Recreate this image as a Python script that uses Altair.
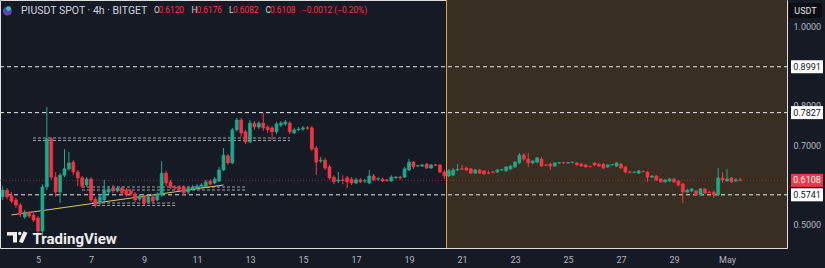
import altair as alt
import pandas as pd

# ---------------- data (PIUSDT 4h candles) ----------------
opens = [
    .569, .586, .571, .561, .548, .518, .530, .523, .515, .482,
    .594, .716, .619, .581, .624, .640, .657, .632, .617, .599,
    .614, .563, .553, .561, .581, .591, .584, .591, .586, .584,
    .576, .563, .569, .556, .569, .561, .574, .629, .607, .594,
    .594, .594, .581, .589, .591, .596, .596, .609, .604, .609,
    .637, .673, .655, .739, .764, .734, .708, .756, .746, .756,
    .746, .744, .734, .751, .754, .756, .731, .739, .741, .744,
    .744, .693, .660, .662, .645, .619, .609, .612, .617, .614,
    .604, .612, .609, .604, .622, .614, .614, .612, .609, .617,
    .619, .619, .637, .657, .647, .647, .652, .642, .650, .650,
    .632, .622, .624, .637, .640, .642, .640, .629, .637, .635,
    .630, .632, .632, .637, .635, .640, .645, .655, .675, .665,
    .655, .657, .665, .650, .652, .647, .655, .656, .655, .656,
    .655, .652, .650, .646, .655, .652, .652, .645, .650, .647,
    .652, .645, .632, .631, .629, .634, .632, .619, .622, .614,
    .607, .609, .614, .609, .601, .581, .584, .584, .574, .589,
    .581, .581, .574, .617, .609, .617, .609, .6120,
]
highs = [
    .596, .591, .581, .566, .553, .536, .533, .528, .520, .601,
    .797, .721, .632, .629, .690, .683, .662, .637, .622, .619,
    .619, .569, .574, .612, .596, .599, .596, .596, .591, .589,
    .581, .576, .574, .574, .574, .581, .660, .635, .612, .599,
    .599, .599, .596, .599, .601, .604, .612, .614, .619, .645,
    .693, .678, .744, .769, .769, .739, .764, .761, .761, .782,
    .751, .749, .759, .761, .764, .761, .744, .746, .749, .749,
    .749, .698, .670, .668, .650, .624, .632, .624, .622, .619,
    .617, .617, .614, .637, .627, .619, .617, .614, .624, .622,
    .622, .645, .665, .660, .650, .652, .655, .652, .652, .652,
    .637, .640, .642, .652, .650, .645, .642, .640, .640, .637,
    .635, .635, .640, .640, .647, .650, .660, .680, .680, .680,
    .662, .670, .670, .652, .655, .657, .657, .657, .657, .658,
    .657, .655, .652, .648, .657, .655, .655, .652, .652, .657,
    .655, .647, .635, .634, .637, .636, .635, .624, .624, .617,
    .614, .617, .617, .612, .604, .589, .591, .586, .591, .591,
    .584, .584, .642, .632, .640, .619, .617, .6176,
]
lows = [
    .561, .563, .553, .541, .518, .513, .515, .505, .470, .464,
    .586, .612, .569, .553, .619, .635, .624, .596, .591, .594,
    .556, .541, .548, .558, .576, .579, .581, .574, .569, .571,
    .556, .558, .548, .551, .553, .558, .569, .596, .589, .586,
    .584, .574, .576, .586, .589, .591, .594, .599, .601, .607,
    .635, .650, .652, .734, .721, .703, .706, .739, .741, .736,
    .731, .713, .728, .746, .749, .728, .728, .736, .736, .739,
    .685, .624, .655, .637, .612, .601, .604, .601, .591, .599,
    .601, .604, .604, .601, .609, .609, .607, .607, .607, .614,
    .612, .617, .635, .640, .645, .645, .640, .640, .647, .629,
    .614, .619, .622, .635, .637, .635, .627, .627, .627, .624,
    .627, .629, .629, .635, .632, .637, .642, .652, .660, .645,
    .652, .655, .645, .647, .637, .645, .652, .652, .653, .654,
    .647, .645, .642, .644, .647, .645, .640, .642, .648, .645,
    .640, .629, .629, .629, .627, .631, .607, .617, .609, .604,
    .604, .607, .604, .596, .553, .579, .581, .571, .571, .576,
    .579, .566, .571, .604, .607, .604, .607, .6082,
]
closes = [
    .586, .569, .558, .548, .525, .530, .520, .510, .482, .594,
    .716, .619, .581, .624, .640, .655, .632, .617, .596, .614,
    .561, .548, .569, .586, .589, .584, .591, .579, .574, .576,
    .561, .571, .553, .569, .558, .576, .629, .604, .594, .591,
    .589, .579, .591, .594, .596, .599, .607, .601, .614, .637,
    .675, .655, .739, .764, .731, .708, .756, .746, .756, .744,
    .739, .734, .754, .756, .759, .734, .739, .741, .744, .743,
    .690, .657, .662, .642, .617, .607, .612, .610, .607, .604,
    .612, .607, .610, .622, .612, .615, .609, .610, .619, .619,
    .617, .640, .657, .645, .648, .650, .642, .650, .649, .632,
    .622, .635, .637, .639, .639, .637, .629, .637, .629, .627,
    .629, .631, .637, .638, .645, .647, .657, .675, .665, .655,
    .660, .668, .647, .649, .647, .655, .656, .655, .656, .657,
    .650, .647, .645, .645, .650, .647, .642, .650, .651, .655,
    .642, .632, .631, .632, .635, .633, .619, .622, .612, .607,
    .612, .614, .607, .599, .581, .586, .589, .574, .589, .579,
    .580, .574, .617, .612, .614, .607, .6120, .6108,
]
first_candle = "2025-04-03 16:00"        # 4h candles
level_prices = [0.8991, 0.7827, 0.5741]   # horizontal dashed levels
zone_starts = ["2025-04-04T19:25:00Z", "2025-04-04T19:25:00Z",
               "2025-04-06T15:50:00Z", "2025-04-06T15:50:00Z",
               "2025-04-07T01:00:00Z", "2025-04-07T01:00:00Z"]
zone_ends = ["2025-04-14T12:15:00Z", "2025-04-14T12:15:00Z",
             "2025-04-12T20:00:00Z", "2025-04-12T20:00:00Z",
             "2025-04-10T04:00:00Z", "2025-04-10T04:00:00Z"]
zone_prices = [0.7183, 0.7119, 0.5939, 0.5863, 0.5533, 0.5470]
trend_times = ["2025-04-04T00:00:00Z", "2025-04-12T00:00:00Z"]
trend_prices = [0.523, 0.599]
range_start = ["2025-04-20T10:00:00Z"]
range_end = ["2025-05-03T06:20:00Z"]
y_ticks = [0.5, 0.7, 0.8, 1.0]

# ---------------- tables ----------------
times = pd.date_range(first_candle, periods=len(opens), freq="4h")
candles = pd.DataFrame({"t": times.strftime("%Y-%m-%dT%H:%M:%SZ"),
                        "o": opens, "h": highs, "l": lows, "c": closes})
level_df = pd.DataFrame({"p": level_prices})
last_df = pd.DataFrame({"p": [closes[-1]]})
zone_df = pd.DataFrame({"s": zone_starts, "e": zone_ends, "p": zone_prices})
trend_df = pd.DataFrame({"t": trend_times, "p": trend_prices})
range_df = pd.DataFrame({"s": range_start, "e": range_end})
dummy = pd.DataFrame({"k": [0]})

# ---------------- style ----------------
BG = "#161a25"
GREEN = "#1fa98c"
RED = "#f23645"
TXT = "#b2b5be"
W, H = 787, 248
FONT = "Roboto"


def dt(y, mo, d, h=0, mi=0):
    return alt.DateTime(year=y, month=mo, date=d, hours=h, minutes=mi, utc=True)


x_domain = [dt(2025, 4, 3, 13, 35), dt(2025, 5, 3, 6, 20)]
x_ticks = [dt(2025, 4, d) for d in range(5, 31, 2)] + [dt(2025, 5, 1)]
x_axis = alt.Axis(values=x_ticks,
                  labelExpr="utcmonth(datum.value) == 4 ? 'May' : utcFormat(datum.value, '%-d')",
                  labelColor=TXT, labelFontSize=9, labelFont=FONT, tickSize=0,
                  domain=False, grid=False, labelPadding=7, labelFlush=False)
y_axis = alt.Axis(orient="right", values=y_ticks, format=".4f", labelColor=TXT,
                  labelFontSize=9, labelFont=FONT, tickSize=0, domain=False, grid=False,
                  labelPadding=6, labelAlign="left")


def X(field):
    return alt.X(field, type="temporal", title=None,
                 scale=alt.Scale(type="utc", domain=x_domain, nice=False, padding=0), axis=x_axis)


def Y(field):
    return alt.Y(field, type="quantitative", title=None,
                 scale=alt.Scale(domain=[0.4391, 1.0685], nice=False, zero=False, padding=0),
                 axis=y_axis)


updown = alt.condition("datum.c >= datum.o", alt.value(GREEN), alt.value(RED))

# ---------------- layers ----------------
region = alt.Chart(range_df).mark_rect(color="#392e22").encode(
    x=X("s"), x2="e", y=alt.value(0), y2=alt.value(H))
vline = alt.Chart(range_df).mark_rule(color="#f0a030", strokeWidth=1).encode(
    x=X("s"), y=alt.value(0), y2=alt.value(H))

levels = alt.Chart(level_df).mark_rule(color="#e6e6e6", strokeDash=[4, 3], strokeWidth=1).encode(
    y=Y("p"), x=alt.value(0), x2=alt.value(W))
zones = alt.Chart(zone_df).mark_rule(color="#c4c4c4", strokeDash=[3, 2], strokeWidth=1, opacity=0.8).encode(
    x=X("s"), x2="e", y=Y("p"))
price_line = alt.Chart(last_df).mark_rule(color=RED, strokeDash=[1, 2], strokeWidth=1, opacity=0.5).encode(
    y=Y("p"), x=alt.value(0), x2=alt.value(W))
trend = alt.Chart(trend_df).mark_line(color="#d9c66b", strokeWidth=1).encode(
    x=X("t"), y=Y("p"))

wicks = alt.Chart(candles).mark_rule(strokeWidth=1).encode(
    x=X("t"), y=Y("l"), y2="h", color=updown)
bodies = alt.Chart(candles).mark_bar(size=3, strokeWidth=0.6).encode(
    x=X("t"), y=Y("o"), y2="c", color=updown, stroke=updown)

# price-axis boxes
box_white = alt.Chart(level_df).mark_rule(color="#ffffff", strokeWidth=13, strokeCap="butt").encode(
    y=Y("p"), x=alt.value(791), x2=alt.value(823))
box_white_txt = alt.Chart(level_df).mark_text(color="#131722", fontSize=9, font=FONT, align="center",
                                              baseline="middle").encode(
    y=Y("p"), x=alt.value(807), text=alt.Text("p:Q", format=".4f"))
box_red = alt.Chart(last_df).mark_rule(color=RED, strokeWidth=13, strokeCap="butt").encode(
    y=Y("p"), x=alt.value(791), x2=alt.value(823))
box_red_txt = alt.Chart(last_df).mark_text(color="#ffffff", fontSize=9, font=FONT, align="center",
                                           baseline="middle").encode(
    y=Y("p"), x=alt.value(807), text=alt.Text("p:Q", format=".4f"))
usdt_box = alt.Chart(dummy).mark_rule(color="#0b0d13", strokeWidth=15, strokeCap="butt").encode(
    x=alt.value(789), x2=alt.value(822), y=alt.value(10.5))
usdt_txt = alt.Chart(dummy).mark_text(text="USDT", color="#e0e3eb", fontSize=9, font=FONT,
                                      align="center", baseline="middle").encode(
    x=alt.value(805.5), y=alt.value(10.5))

# header
icon = alt.Chart(dummy).mark_point(filled=True, shape="circle", size=80, color="#5b45b0", opacity=1).encode(
    x=alt.value(7.5), y=alt.value(11))
icon2 = alt.Chart(dummy).mark_point(filled=True, shape="circle", size=22, color="#3fc6a8", opacity=1).encode(
    x=alt.value(8.5), y=alt.value(8.5))
title = alt.Chart(dummy).mark_text(text="PIUSDT SPOT · 4h · BITGET", color="#d1d4dc", fontSize=10.5,
                                   font=FONT, align="left", baseline="middle").encode(
    x=alt.value(21), y=alt.value(11))

chg = closes[-1] - closes[-2]
chg_txt = f"{chg:+.4f} ({chg / closes[-2] * 100:+.2f}%)".replace("-", "\u2212")
ohlc_col = RED if chg < 0 else GREEN
segments = [(154, "O", "#d1d4dc"), (158.5, f"{opens[-1]:.4f}", ohlc_col),
            (191.5, "H", "#d1d4dc"), (196.5, f"{highs[-1]:.4f}", ohlc_col),
            (229, "L", "#d1d4dc"), (233, f"{lows[-1]:.4f}", ohlc_col),
            (265.5, "C", "#d1d4dc"), (270, f"{closes[-1]:.4f}", ohlc_col),
            (302, chg_txt, ohlc_col)]
header_parts = [
    alt.Chart(dummy).mark_text(text=s, color=col, fontSize=8.3, font=FONT, align="left",
                               baseline="middle").encode(x=alt.value(xp), y=alt.value(11))
    for xp, s, col in segments
]

# TradingView watermark
wm_txt = alt.Chart(dummy).mark_text(text="TradingView", color="#eeeeee", fontSize=15, fontWeight="bold",
                                    font=FONT, align="left", baseline="middle").encode(
    x=alt.value(32.5), y=alt.value(238.5))
logo_bar = alt.Chart(dummy).mark_rule(color="#eeeeee", strokeWidth=3.5, strokeCap="butt").encode(
    x=alt.value(7), x2=alt.value(17), y=alt.value(233.8))
logo_stem = alt.Chart(dummy).mark_rule(color="#eeeeee", strokeWidth=4, strokeCap="butt").encode(
    x=alt.value(15), y=alt.value(232), y2=alt.value(242.5))
logo_dot = alt.Chart(dummy).mark_point(filled=True, shape="circle", size=12, color="#eeeeee", opacity=1).encode(
    x=alt.value(19.8), y=alt.value(233.6))
logo_slash = alt.Chart(dummy).mark_rule(color="#eeeeee", strokeWidth=4.2, strokeCap="butt").encode(
    x=alt.value(25.5), y=alt.value(232), x2=alt.value(20.8), y2=alt.value(242.5))

chart = alt.layer(
    region, vline, levels, zones, price_line, trend, wicks, bodies,
    box_white, box_white_txt, box_red, box_red_txt, usdt_box, usdt_txt,
    icon, icon2, title, *header_parts,
    wm_txt, logo_bar, logo_stem, logo_dot, logo_slash,
).properties(
    width=W, height=H,
    autosize=alt.AutoSizeParams(type="none"),
    padding={"left": 0, "top": 0, "right": 38, "bottom": 20},
    background=BG,
).configure_view(strokeWidth=0, fill=BG).configure(font=FONT)

chart.save("out.html", embed_options={"renderer": "svg", "actions": False})
